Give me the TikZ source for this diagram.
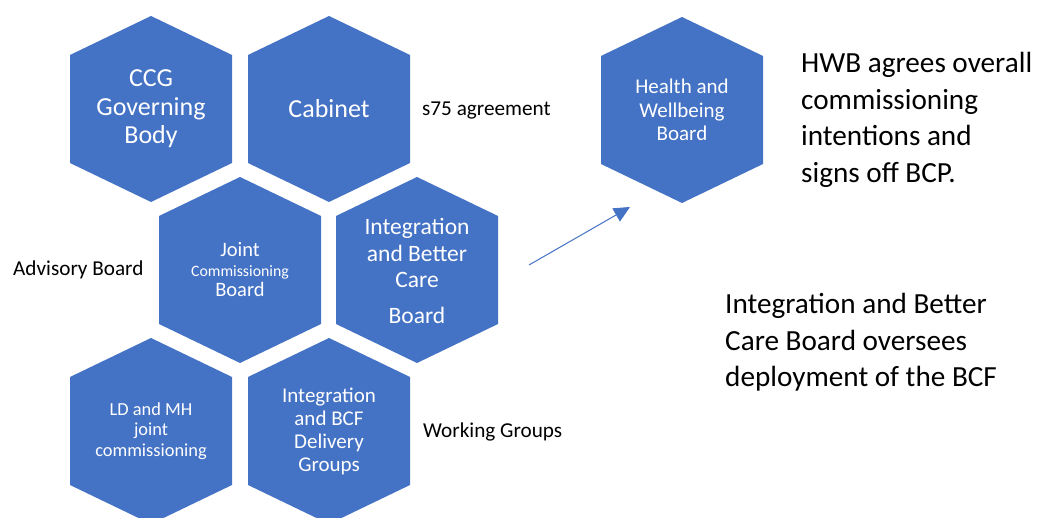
\documentclass[tikz,border=0pt]{standalone}
\usepackage{fontspec}
\setmainfont{Carlito}
\usetikzlibrary{arrows.meta}

\definecolor{hexblue}{HTML}{4472C4}
\tikzset{
    hexlabel/.style={text=white, align=center, inner sep=0pt},
    note/.style={anchor=west, align=left, inner sep=0pt},
}

\begin{document}
\begin{tikzpicture}[x=1pt, y=1pt]
    \clip (0,0) rectangle (1037,518);

    % hexagon centres
    \coordinate (CCG) at (151,409);
    \coordinate (Cab) at (329,409);
    \coordinate (JCB) at (240,248);
    \coordinate (IBC) at (417,248);
    \coordinate (LDMH) at (151,87);
    \coordinate (BCF) at (329,87);
    \coordinate (HWB) at (682,408);

    \foreach \c in {CCG,Cab,JCB,IBC,LDMH,BCF,HWB}
        \fill[hexblue] (\c) +(0,93) -- +(81,54) -- +(81,-54) -- +(0,-93)
            -- +(-81,-54) -- +(-81,54) -- cycle;

    \node[hexlabel, font=\fontsize{26}{28.5}\selectfont] (ccgText) at (CCG) {CCG\\Governing\\Body};
    \node[hexlabel, font=\fontsize{26}{28.5}\selectfont] (cabText) at (Cab) {Cabinet};
    \node[hexlabel, font=\fontsize{20.5}{20}\selectfont] (jcbText) at (JCB)
        {Joint\\{\fontsize{15.8}{18}\selectfont Commissioning}\\Board};
    \node[hexlabel, font=\fontsize{23.5}{26.5}\selectfont, yshift=-1pt] (ibcText) at (IBC)
        {Integration\\and Better\\Care\\[9.5pt]Board};
    \node[hexlabel, font=\fontsize{18.4}{20.5}\selectfont] (ldText) at (LDMH)
        {LD and MH\\joint\\commissioning};
    \node[hexlabel, font=\fontsize{21}{23}\selectfont] (bcfText) at (BCF)
        {Integration\\and BCF\\Delivery\\Groups};
    \node[hexlabel, font=\fontsize{21}{23.5}\selectfont] (hwbText) at (HWB)
        {Health and\\Wellbeing\\Board};

    % side labels
    \node[note, font=\fontsize{21.2}{24}\selectfont] (s75) at (422,407) {s75 agreement};
    \node[note, font=\fontsize{21.2}{24}\selectfont] (advisory) at (13,248) {Advisory Board};
    \node[note, font=\fontsize{21.2}{24}\selectfont] (working) at (423,86) {Working Groups};

    \node[note, font=\fontsize{29.2}{36.5}\selectfont] (hwbNote) at (801,398)
        {HWB agrees overall\\commissioning\\intentions and\\signs off BCP.};
    \node[note, font=\fontsize{29.2}{36.5}\selectfont] (ibcNote) at (725,175.5)
        {Integration and Better\\Care Board oversees\\deployment of the BCF};

    \coordinate (arrS) at (529,253);
    \coordinate (arrT) at (630,311);
    \draw[hexblue, line width=1pt, -{Triangle[length=16pt, width=15pt]}] (arrS) -- (arrT);
\end{tikzpicture}
\end{document}
